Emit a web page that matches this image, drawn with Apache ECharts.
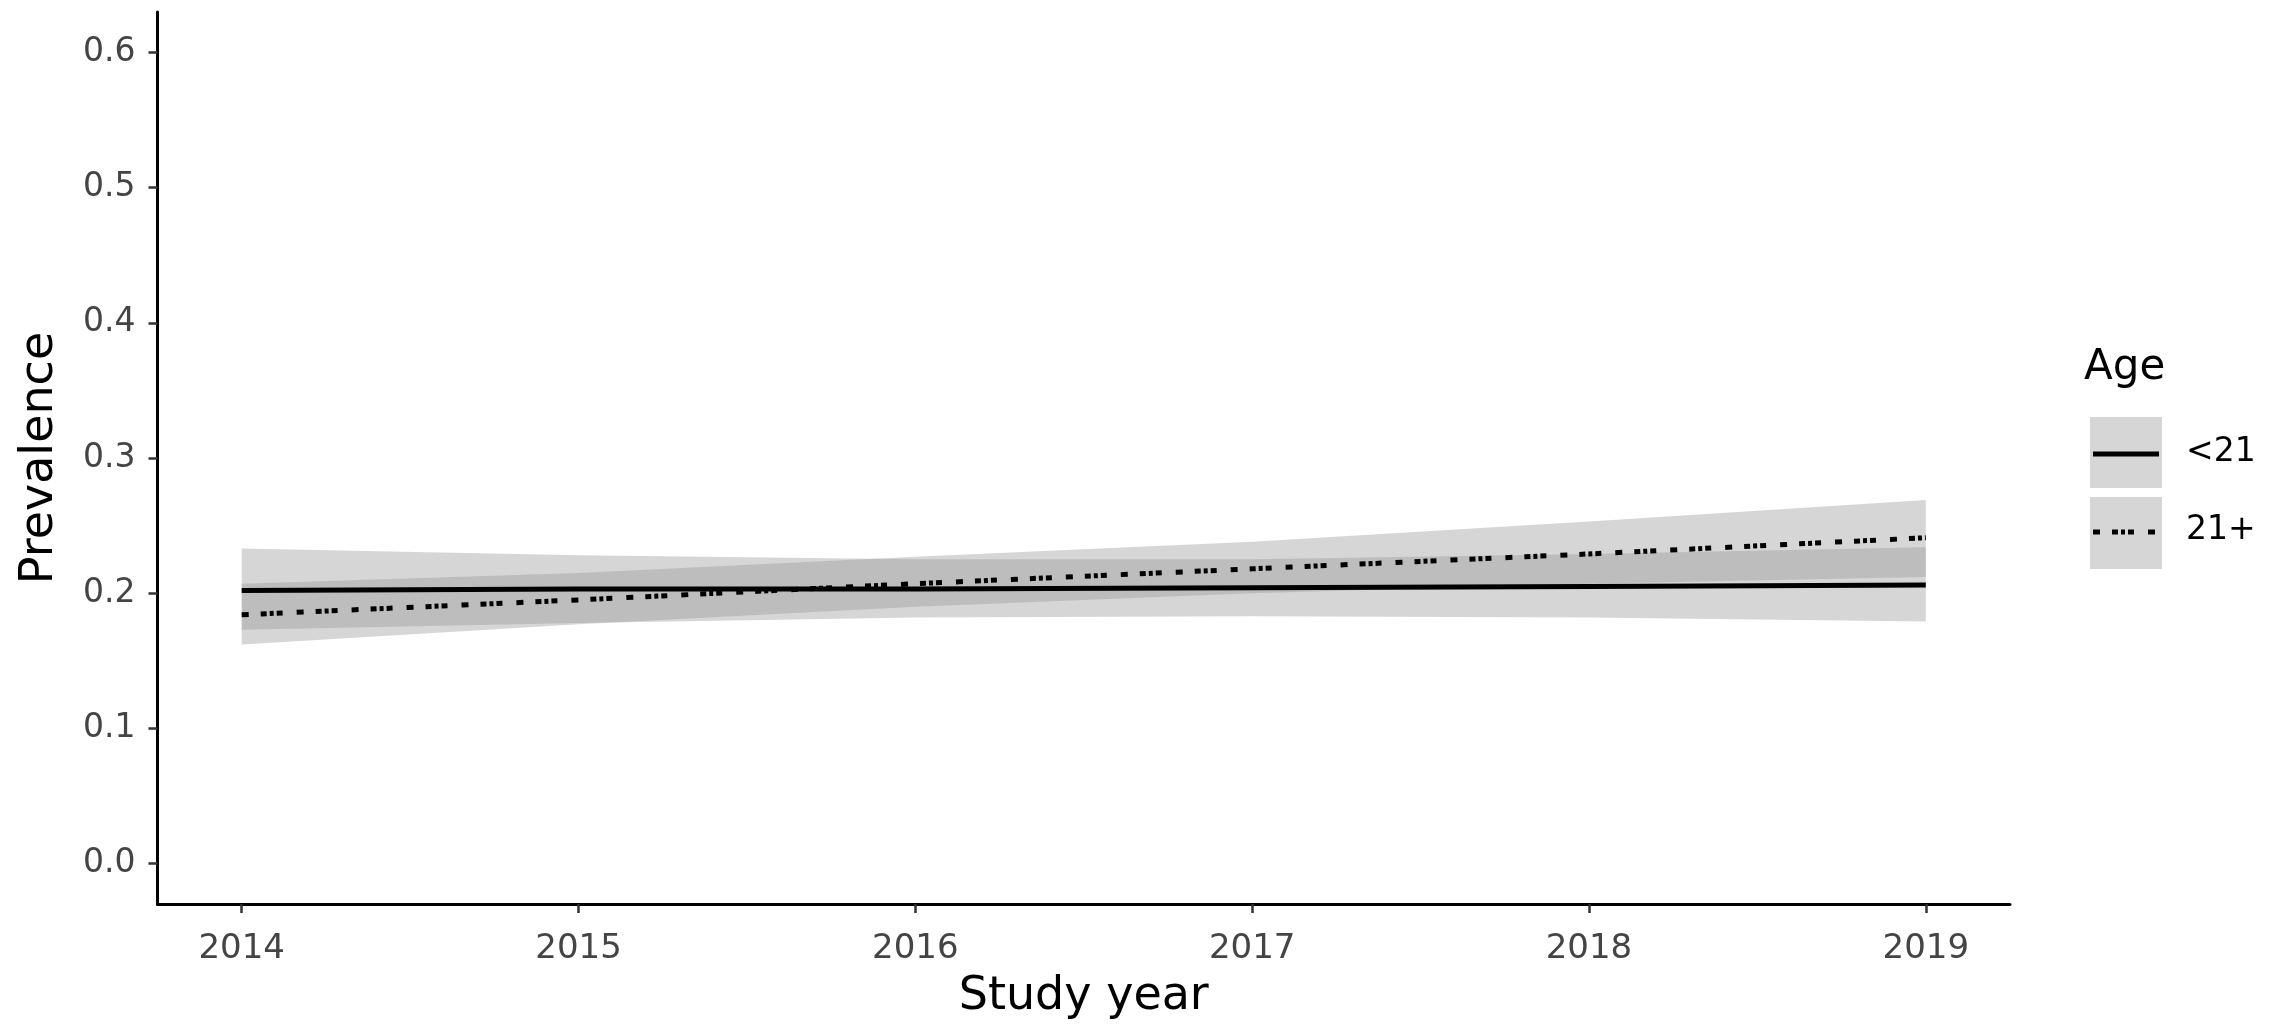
<!DOCTYPE html>
<html>
<head>
<meta charset="utf-8">
<script src="https://cdn.jsdelivr.net/npm/echarts@6/dist/echarts.min.js"></script>
<style>
html,body{margin:0;padding:0;background:#fff;}
#chart{width:2287px;height:1029px;}
</style>
</head>
<body>
<div id="chart"></div>
<script>
// ---- data ----
const years = [2014, 2015, 2016, 2017, 2018, 2019];
const xTicks = [2014, 2015, 2016, 2017, 2018, 2019];
const yTicks = [0, 0.1, 0.2, 0.3, 0.4, 0.5, 0.6];

const under21Fit   = [0.202, 0.203, 0.203, 0.204, 0.205, 0.206];
const under21Lower = [0.173, 0.178, 0.182, 0.183, 0.182, 0.179];
const under21Upper = [0.233, 0.228, 0.225, 0.225, 0.229, 0.234];

const over21Fit   = [0.184, 0.195, 0.207, 0.218, 0.229, 0.241];
const over21Lower = [0.162, 0.177, 0.190, 0.200, 0.207, 0.212];
const over21Upper = [0.207, 0.215, 0.227, 0.238, 0.253, 0.269];

const seriesNames = ['<21', '21+'];
const legendTitle = 'Age';
const xTitle = 'Study year';
const yTitle = 'Prevalence';

// ---- chart ----
const FONT = 'DejaVu Sans';
const bandFill = 'rgba(153,153,153,0.4)';
const dotDash = [7, 12, 6, 3, 4, 3, 6, 14];

function band(name, lower, upper) {
  return {
    name: name,
    type: 'custom',
    z: 1,
    silent: true,
    clip: false,
    data: years.map((y, i) => [y, upper[i]]),
    encode: { x: 0, y: 1 },
    renderItem: function (params, api) {
      if (params.dataIndex !== 0) return null;
      const pts = [];
      for (let i = 0; i < years.length; i++) pts.push(api.coord([years[i], upper[i]]));
      for (let i = years.length - 1; i >= 0; i--) pts.push(api.coord([years[i], lower[i]]));
      return { type: 'polygon', shape: { points: pts }, style: { fill: bandFill } };
    }
  };
}

const chart = echarts.init(document.getElementById('chart'), null, { renderer: 'canvas' });
chart.setOption({
  animation: false,
  backgroundColor: '#ffffff',
  grid: { left: 157.5, right: 277, top: 12, bottom: 125, containLabel: false },
  xAxis: {
    type: 'value',
    min: 2013.75, max: 2019.25,
    name: xTitle,
    nameLocation: 'middle',
    nameGap: 70,
    nameTextStyle: { fontFamily: FONT, fontSize: 46, color: '#000' },
    axisLine: { show: true, onZero: false, lineStyle: { color: '#000', width: 3 } },
    axisTick: { show: true, length: 9, customValues: xTicks, lineStyle: { color: '#333', width: 2.5 } },
    axisLabel: { customValues: xTicks, margin: 28, fontFamily: FONT, fontSize: 34, color: '#444',
                 formatter: v => String(v) },
    splitLine: { show: false }
  },
  yAxis: {
    type: 'value',
    min: -0.03, max: 0.63,
    name: yTitle,
    nameLocation: 'middle',
    nameGap: 94,
    nameRotate: 90,
    nameTextStyle: { fontFamily: FONT, fontSize: 46, color: '#000' },
    axisLine: { show: true, onZero: false, lineStyle: { color: '#000', width: 3 } },
    axisTick: { show: true, length: 9, customValues: yTicks, lineStyle: { color: '#333', width: 2.5 } },
    axisLabel: { customValues: yTicks, margin: 22, fontFamily: FONT, fontSize: 33, color: '#444',
                 formatter: v => v.toFixed(1) },
    splitLine: { show: false }
  },
  series: [
    band(seriesNames[0] + ' CI', under21Lower, under21Upper),
    band(seriesNames[1] + ' CI', over21Lower, over21Upper),
    {
      name: seriesNames[0], type: 'line', z: 3, symbol: 'none', silent: true,
      data: years.map((y, i) => [y, under21Fit[i]]),
      lineStyle: { color: '#000', width: 5, type: 'solid' }
    },
    {
      name: seriesNames[1], type: 'line', z: 3, symbol: 'none', silent: true,
      data: years.map((y, i) => [y, over21Fit[i]]),
      lineStyle: { color: '#000', width: 5, type: dotDash }
    }
  ],
  graphic: [
    { type: 'text', left: 2084, top: 347, style: { text: legendTitle, fontFamily: FONT, fontSize: 42, fill: '#000' } },
    { type: 'rect', shape: { x: 2090, y: 417, width: 72, height: 71 }, style: { fill: '#d6d6d6' } },
    { type: 'rect', shape: { x: 2090, y: 497, width: 72, height: 72 }, style: { fill: '#d6d6d6' } },
    { type: 'line', shape: { x1: 2093, y1: 454, x2: 2159, y2: 454 }, style: { stroke: '#000', lineWidth: 5 } },
    { type: 'line', shape: { x1: 2093, y1: 532, x2: 2159, y2: 532 }, style: { stroke: '#000', lineWidth: 5, lineDash: dotDash } },
    { type: 'text', left: 2186, top: 436, style: { text: seriesNames[0], fontFamily: FONT, fontSize: 33, fill: '#000' } },
    { type: 'text', left: 2186, top: 514, style: { text: seriesNames[1], fontFamily: FONT, fontSize: 33, fill: '#000' } }
  ]
});
</script>
</body>
</html>
